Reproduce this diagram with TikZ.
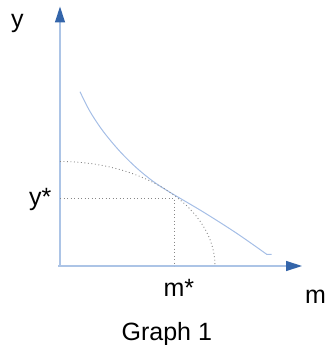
\documentclass[tikz,border=0pt]{standalone}
\usepackage{fontspec}
\setmainfont{Liberation Sans}
\usetikzlibrary{arrows.meta}
\definecolor{axisline}{RGB}{172,196,230}
\definecolor{axistip}{RGB}{52,101,170}
\definecolor{curveblue}{RGB}{165,190,230}
\definecolor{dotgray}{RGB}{135,135,135}
\begin{document}
\begin{tikzpicture}[x=1pt,y=-1pt,
  axis/.style={draw=axisline,line width=1.3pt,-{Triangle[length=16pt,width=10pt,color=axistip]}},
  curve/.style={draw=curveblue,line width=1pt},
  dotline/.style={draw=dotgray,line width=0.9pt,dash pattern=on 0.9pt off 2.6pt},
  lbl/.style={anchor=base west,inner sep=0pt,font=\fontsize{25}{30}\selectfont}]
\useasboundingbox (0,0) rectangle (325,345);
\coordinate (O) at (58,266);
\coordinate (O2) at (60,266.5);
\coordinate (ytop) at (60,6.5);
\coordinate (xend) at (302,266);
\draw[axis] (O2) -- (ytop);
\draw[axis] (O) -- (xend);
% indifference curve
\draw[curve] plot[smooth,tension=0.55] coordinates {(80,91.7) (90,111.5) (103.3,131.5) (120,151.5) (136.7,168) (153.3,181.5) (170,192.3) (203.3,212) (236.7,233.3) (266.7,254.3)} -- (271.7,254.3);
% dotted quarter ellipse
\coordinate (Ytop) at (60,161.5);
\coordinate (Xend) at (215,266);
\draw[dotline] (Ytop) arc[start angle=90,end angle=0,x radius=155,y radius=-104.5];
% dotted guides
\coordinate (T) at (174.3,198.3);
\coordinate (Ty) at (60,198.3);
\coordinate (Tx) at (174.3,266);
\draw[dotline] (Ty) -- (T) -- (Tx);
% labels
\node[lbl] (ylab) at (11,28) {y};
\node[lbl] (ystar) at (29,205.8) {y*};
\node[lbl] (mstar) at (163.3,296.7) {m*};
\node[lbl] (mlab) at (305,303.3) {m};
\node[lbl] (title) at (121.4,340) {Graph 1};
\end{tikzpicture}
\end{document}
